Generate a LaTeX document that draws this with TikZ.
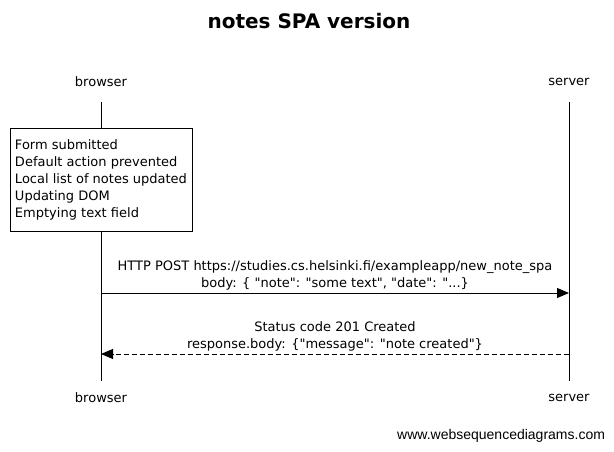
\documentclass[tikz,border=0pt]{standalone}
\usepackage{fontspec}
\setmainfont{DejaVu Sans}[Ligatures=TeXOff]
\newfontfamily\wmfont{Liberation Sans}
\usetikzlibrary{arrows.meta}
\newcommand\qq{\symbol{34}}
\begin{document}
\begin{tikzpicture}[x=1pt,y=-1pt,
  every node/.style={inner sep=0pt,outer sep=0pt},
  actor/.style={font=\fontsize{13}{15}\selectfont},
  lifeline/.style={line width=0.9pt},
  notebox/.style={draw,line width=0.9pt,fill=white,align=left,anchor=north west,
    inner xsep=5pt,inner ysep=6pt,minimum width=181pt,minimum height=103pt,
    font=\fontsize{13}{17}\selectfont},
  msglabel/.style={align=center,font=\fontsize{13}{17}\selectfont},
  msg/.style={line width=0.9pt,-{Triangle[length=12pt,width=10pt]}},
  reply/.style={msg,dash pattern=on 5pt off 3pt}]
\useasboundingbox (0,0) rectangle (614,451);
\node[font=\bfseries\fontsize{20}{24}\selectfont] (title) at (309,21) {notes SPA version};
\node[actor] (bt) at (101,82) {browser};
\node[actor] (st) at (569,82) {server};
\node[actor] (bb) at (101,398) {browser};
\node[actor] (sb) at (569,398) {server};
\coordinate (b1) at (101,102);
\coordinate (b2) at (101,381);
\coordinate (s1) at (569,102);
\coordinate (s2) at (569,381);
\draw[lifeline] (b1) -- (b2);
\draw[lifeline] (s1) -- (s2);
\node[notebox] (note) at (10,128) {Form submitted\\Default action prevented\\Local list of notes updated\\Updating DOM\\Emptying text field};
\coordinate (m1b) at (101,293);
\coordinate (m1s) at (569,293);
\coordinate (m2b) at (101,354);
\coordinate (m2s) at (569,354);
\draw[msg] (m1b) -- (m1s);
\draw[reply] (m2s) -- (m2b);
\node[msglabel] (l1) at (335,275.5) {HTTP POST https://studies.cs.helsinki.fi/exampleapp/new\_note\_spa\\body: \{ \qq note\qq: \qq some text\qq, \qq date\qq: \qq...\}};
\node[msglabel] (l2) at (335,336.5) {Status code 201 Created\\response.body: \{\qq message\qq: \qq note created\qq\}};
\node[font=\wmfont\fontsize{14}{16}\selectfont,anchor=east] (wm) at (605,436) {www.websequencediagrams.com};
\end{tikzpicture}
\end{document}
